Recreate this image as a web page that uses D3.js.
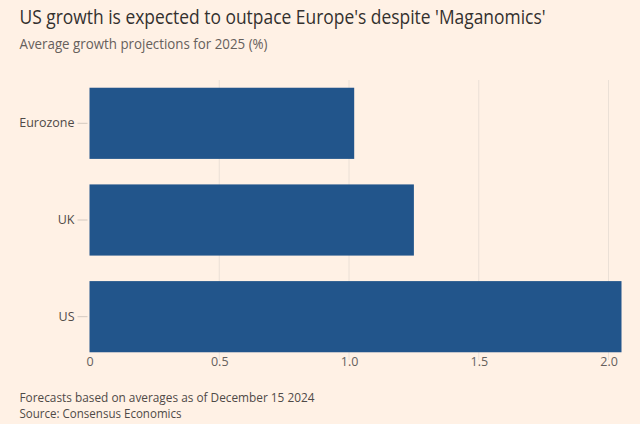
<!DOCTYPE html>
<html>
<head>
<meta charset="utf-8">
<script src="https://cdn.jsdelivr.net/npm/d3@7"></script>
<style>
  html, body { margin: 0; padding: 0; background: #FFF1E5; }
  svg { display: block; }
  text { font-family: "Open Sans", "Noto Sans", sans-serif; }
</style>
</head>
<body>
<svg id="chart" width="640" height="424"></svg>
<script>
const categories = ["Eurozone", "UK", "US"];
const values = [1.02, 1.25, 2.05];
const tickValues = [0, 0.5, 1.0, 1.5, 2.0];
const tickLabels = ["0", "0.5", "1.0", "1.5", "2.0"];
const title = "US growth is expected to outpace Europe's despite 'Maganomics'";
const subtitle = "Average growth projections for 2025 (%)";
const notes = ["Forecasts based on averages as of December 15 2024", "Source: Consensus Economics"];

const svg = d3.select("#chart");
svg.append("rect").attr("width", 640).attr("height", 424).attr("fill", "#FFF1E5");

const x = d3.scaleLinear().domain([0, 2.05]).range([89.5, 621.5]);
const y = d3.scaleBand().domain(categories).range([80, 360]).paddingInner(0.264).paddingOuter(0.08);

// gridlines
svg.append("g").selectAll("line").data(tickValues.slice(1)).join("line")
  .attr("x1", d => x(d)).attr("x2", d => x(d))
  .attr("y1", 80).attr("y2", 360)
  .attr("stroke", "#ebe0d6").attr("stroke-width", 1);

// bars
svg.append("g").selectAll("rect").data(values).join("rect")
  .attr("x", x(0))
  .attr("y", (d, i) => y(categories[i]))
  .attr("width", d => x(d) - x(0))
  .attr("height", y.bandwidth())
  .attr("fill", "#22558b");

// y axis
const yAxis = d3.axisLeft(y).tickSize(10).tickPadding(3);
const gy = svg.append("g").attr("transform", `translate(${x(0) - 2},0)`).call(yAxis);
gy.select(".domain").remove();
gy.selectAll(".tick line").attr("stroke", "#d4c9c0");
gy.selectAll(".tick text").attr("fill", "#4f4a47").attr("font-size", 12.5)
  .style("font-family", "'Open Sans', sans-serif");

// x axis
const xAxis = d3.axisBottom(x).tickValues(tickValues).tickFormat((d, i) => tickLabels[i]).tickSize(0).tickPadding(0);
const gx = svg.append("g").attr("transform", `translate(0,357)`).call(xAxis);
gx.select(".domain").remove();
gx.selectAll(".tick text").attr("fill", "#66605c").attr("font-size", 12.5);

// title
svg.append("text").attr("x", 19.5).attr("y", 24).text(title)
  .attr("font-size", 19.5).attr("fill", "#33302e")
  .attr("textLength", 526).attr("lengthAdjust", "spacingAndGlyphs");
svg.append("text").attr("x", 19.5).attr("y", 49).text(subtitle)
  .attr("font-size", 14).attr("fill", "#66605c")
  .attr("textLength", 248).attr("lengthAdjust", "spacingAndGlyphs");

// notes
svg.append("g").selectAll("text").data(notes).join("text")
  .attr("x", 19.5).attr("y", (d, i) => 402 + i * 15.5)
  .attr("font-size", 12.5).attr("fill", "#4f4a47")
  .attr("textLength", (d, i) => [295, 162][i]).attr("lengthAdjust", "spacingAndGlyphs")
  .text(d => d);
</script>
</body>
</html>
